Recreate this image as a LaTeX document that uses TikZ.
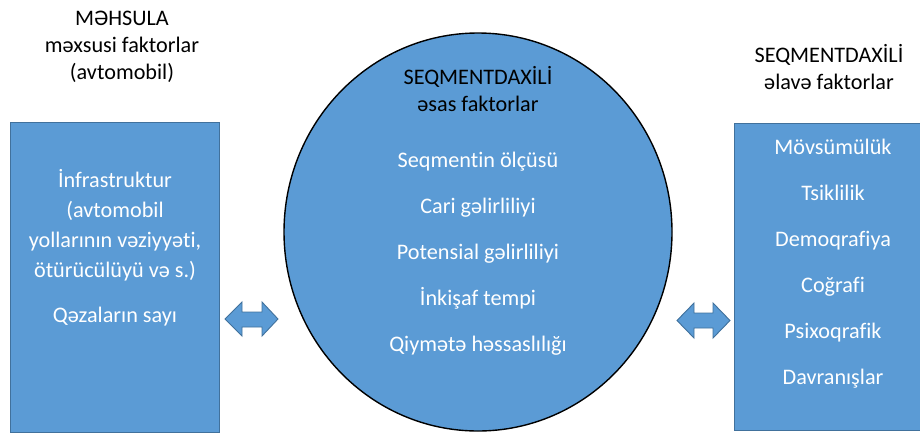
\documentclass[tikz,border=0pt]{standalone}
\usepackage{fontspec}
\setmainfont[Ligatures=NoCommon]{Carlito}
\definecolor{fillblue}{HTML}{5B9BD5}
\definecolor{edgeblue}{HTML}{41719C}
\begin{document}
\begin{tikzpicture}[x=1pt,y=-1pt,
  box/.style={draw=edgeblue,fill=fillblue,line width=0.9pt},
  blockarrow/.style={draw=edgeblue,fill=fillblue,line width=0.9pt,line join=miter},
  lbl/.style={inner sep=0pt,text height=14.5pt,text depth=0pt,anchor=center,font=\fontsize{22.2}{26}\selectfont},
  head/.style={lbl,text=black},
  item/.style={lbl,text=white}]
\useasboundingbox (0,0) rectangle (920,434);
% shapes
\path[box] (10,122) rectangle (219,432);
\path[box] (734,123) rectangle (940,430);
\draw[fill=fillblue,draw=black,line width=1.4pt] (478,232) ellipse [x radius=194,y radius=199];
\path[blockarrow] (225,319) -- (242,302) -- (242,312) -- (262,312) -- (262,302) -- (278,319)
  -- (262,336) -- (262,327) -- (242,327) -- (242,336) -- cycle;
\path[blockarrow] (677,320.5) -- (694,303) -- (694,313) -- (713,313) -- (713,303) -- (730,320.5)
  -- (713,338) -- (713,328) -- (694,328) -- (694,338) -- cycle;
% left heading
\node[head] (lh1) at (122,18) {MƏHSULA};
\node[head] (lh2) at (122,45) {məxsusi faktorlar};
\node[head] (lh3) at (122,72) {(avtomobil)};
% left box
\node[item] (l1) at (115,180) {İnfrastruktur};
\node[item] (l2) at (115,210) {(avtomobil};
\node[item] (l3) at (115,240) {yollarının vəziyyəti,};
\node[item] (l4) at (115,270) {ötürücülüyü və s.)};
\node[item] (l5) at (115,315) {Qəzaların sayı};
% circle
\node[head] (ch1) at (478,77) {SEQMENTDAXİLİ};
\node[head] (ch2) at (478,104) {əsas faktorlar};
\node[item] (c1) at (478,160) {Seqmentin ölçüsü};
\node[item] (c2) at (478,206) {Cari gəlirliliyi};
\node[item] (c3) at (478,252) {Potensial gəlirliliyi};
\node[item] (c4) at (478,298) {İnkişaf tempi};
\node[item] (c5) at (478,344) {Qiymətə həssaslılığı};
% right heading
\node[head] (rh1) at (829,55) {SEQMENTDAXİLİ};
\node[head] (rh2) at (829,82) {əlavə faktorlar};
% right box
\node[item] (r1) at (833,147) {Mövsümülük};
\node[item] (r2) at (833,193) {Tsiklilik};
\node[item] (r3) at (833,239) {Demoqrafiya};
\node[item] (r4) at (833,285) {Coğrafi};
\node[item] (r5) at (833,331) {Psixoqrafik};
\node[item] (r6) at (833,377) {Davranışlar};
\end{tikzpicture}
\end{document}
